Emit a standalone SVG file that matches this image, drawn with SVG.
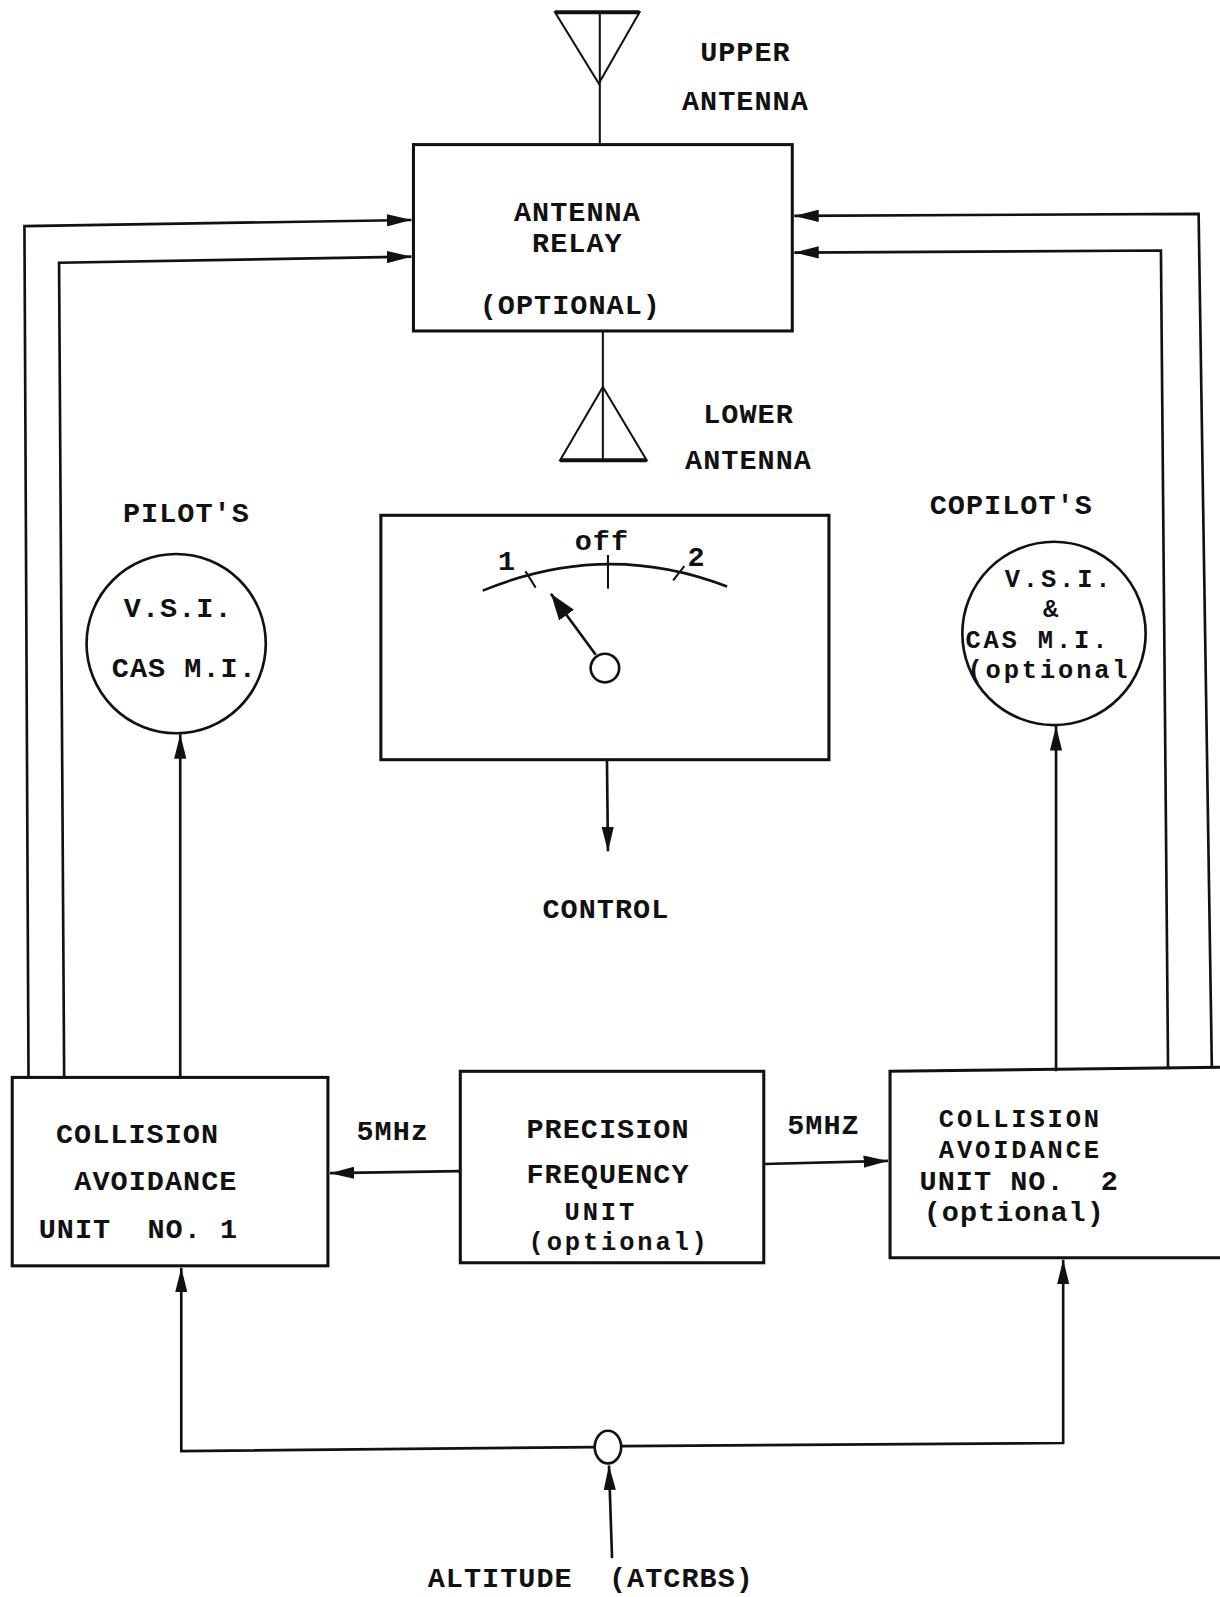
<svg xmlns="http://www.w3.org/2000/svg" width="1220" height="1597" viewBox="0 0 1220 1597">
<style>
  text { font-family: "Liberation Mono", "DejaVu Sans Mono", monospace; font-size: 28px; font-weight: bold; fill: #111; letter-spacing: 1px; }
  .c { text-anchor: middle; }
  .pre { white-space: pre; }
  .sm { font-size: 25px; letter-spacing: 2.8px; }
  .box { fill: none; stroke: #111; stroke-width: 3; }
  .edge { fill: none; stroke: #111; stroke-width: 2.6; }
  .thin { fill: none; stroke: #111; stroke-width: 2; }
</style>
<defs>
  <marker id="arr" viewBox="0 0 24 12" refX="24" refY="6" markerWidth="24" markerHeight="12" markerUnits="userSpaceOnUse" orient="auto">
    <path d="M0,0 L24,6 L0,12 z" fill="#111"/>
  </marker>
  <marker id="arrBig" viewBox="0 0 26 18" refX="26" refY="9" markerWidth="26" markerHeight="18" markerUnits="userSpaceOnUse" orient="auto">
    <path d="M0,0 L26,9 L0,18 z" fill="#111"/>
  </marker>
</defs>
<rect x="0" y="0" width="1220" height="1597" fill="#fff"/>
<g transform="scale(1.01836)">

<g id="upper-antenna">
  <polygon class="thin" points="545,12 628,12 588,82"/>
  <line x1="545" y1="12" x2="628" y2="12" stroke="#111" stroke-width="4"/>
  <line class="thin" x1="589" y1="12" x2="589" y2="142"/>
  <text class="c" x="732" y="60">UPPER</text>
  <text class="c" x="732" y="108">ANTENNA</text>
</g>

<g id="antenna-relay">
  <rect class="box" x="406" y="142" width="372" height="183"/>
  <text class="c" x="567" y="217">ANTENNA</text>
  <text class="c" x="567" y="247">RELAY</text>
  <text class="c" x="560" y="308">(OPTIONAL)</text>
</g>

<g id="lower-antenna">
  <line class="thin" x1="592" y1="325" x2="592" y2="452"/>
  <polygon class="thin" points="592,380 550,452 635,452"/>
  <line x1="550" y1="452" x2="635" y2="452" stroke="#111" stroke-width="4"/>
  <text class="c" x="735" y="415">LOWER</text>
  <text class="c" x="735" y="461">ANTENNA</text>
</g>

<g id="pilot-indicator">
  <circle class="edge" cx="173" cy="632" r="88"/>
  <text class="c" x="183" y="513">PILOT'S</text>
  <text class="c" x="175" y="606">V.S.I.</text>
  <text class="c" x="181" y="665">CAS M.I.</text>
</g>

<g id="copilot-indicator">
  <circle class="edge" cx="1035" cy="622" r="90"/>
  <text class="c" x="993" y="505">COPILOT'S</text>
  <text class="c sm" x="1040" y="576">V.S.I.</text>
  <text class="c sm" x="1033" y="606">&amp;</text>
  <text class="sm" x="948" y="636">CAS M.I.</text>
  <text class="sm" x="950" y="666">(optional</text>
</g>

<g id="selector-switch">
  <rect class="box" x="374" y="506" width="440" height="240"/>
  <path class="edge" d="M474,580 Q595,530 714,576" stroke-width="3"/>
  <line class="thin" x1="516" y1="561" x2="526" y2="577"/>
  <line class="thin" x1="597" y1="545" x2="597" y2="578"/>
  <line class="thin" x1="672" y1="556" x2="661" y2="570"/>
  <text class="c" x="498" y="560">1</text>
  <text class="c" x="591" y="540">off</text>
  <text class="c" x="684" y="556">2</text>
  <circle class="edge" cx="594" cy="656" r="14"/>
  <line class="edge" x1="585" y1="643" x2="541" y2="583" stroke-width="3" marker-end="url(#arrBig)"/>
  <text class="c" x="595" y="901">CONTROL</text>
</g>

<g id="ca-unit-1">
  <rect class="box" x="12" y="1058" width="310" height="185"/>
  <text x="55" y="1122">COLLISION</text>
  <text x="73" y="1169">AVOIDANCE</text>
  <text class="pre" x="38" y="1216">UNIT  NO. 1</text>
</g>

<g id="precision-frequency-unit">
  <rect class="box" x="452" y="1052" width="298" height="188"/>
  <text class="c" x="597" y="1117">PRECISION</text>
  <text class="c" x="597" y="1162">FREQUENCY</text>
  <text class="c sm" x="590" y="1198">UNIT</text>
  <text class="c sm" x="608" y="1227">(optional)</text>
</g>

<g id="ca-unit-2">
  <polyline class="box" points="1202,1235 874,1235 874,1052 1202,1048"/>
  <text class="c sm" x="1002" y="1107">COLLISION</text>
  <text class="c sm" x="1002" y="1137">AVOIDANCE</text>
  <text class="pre" x="903" y="1169">UNIT NO.  2</text>
  <text x="907" y="1199">(optional)</text>
</g>

<g id="altitude-source">
  <ellipse class="edge" cx="597" cy="1421" rx="13" ry="16" stroke-width="3"/>
  <text class="pre" x="420" y="1558">ALTITUDE  (ATCRBS)</text>
</g>

<g id="connectors">
  <polyline class="edge" points="28,1058 24,222 404,216" marker-end="url(#arr)"/>
  <polyline class="edge" points="63,1058 58,258 404,252" marker-end="url(#arr)"/>
  <polyline class="edge" points="1190,1049 1177,210 780,212" marker-end="url(#arr)"/>
  <polyline class="edge" points="1147,1050 1140,246 780,248" marker-end="url(#arr)"/>
  <line class="edge" x1="177" y1="1058" x2="177" y2="721" marker-end="url(#arr)"/>
  <line class="edge" x1="1037" y1="1052" x2="1037" y2="713" marker-end="url(#arr)"/>
  <line class="edge" x1="452" y1="1150" x2="324" y2="1152" stroke-width="3.5" marker-end="url(#arr)"/>
  <line class="edge" x1="750" y1="1143" x2="872" y2="1140" stroke-width="3.5" marker-end="url(#arr)"/>
  <line class="edge" x1="596" y1="746" x2="597" y2="836" marker-end="url(#arr)"/>
  <text x="350" y="1119">5MHz</text>
  <text x="773" y="1114">5MHZ</text>
  <polyline class="edge" points="584,1421 178,1425 178,1245" stroke-width="3" marker-end="url(#arr)"/>
  <polyline class="edge" points="610,1420 1044,1417 1044,1237" stroke-width="3" marker-end="url(#arr)"/>
  <line class="edge" x1="601" y1="1530" x2="598" y2="1439" marker-end="url(#arr)"/>
</g>
</g>
</svg>
